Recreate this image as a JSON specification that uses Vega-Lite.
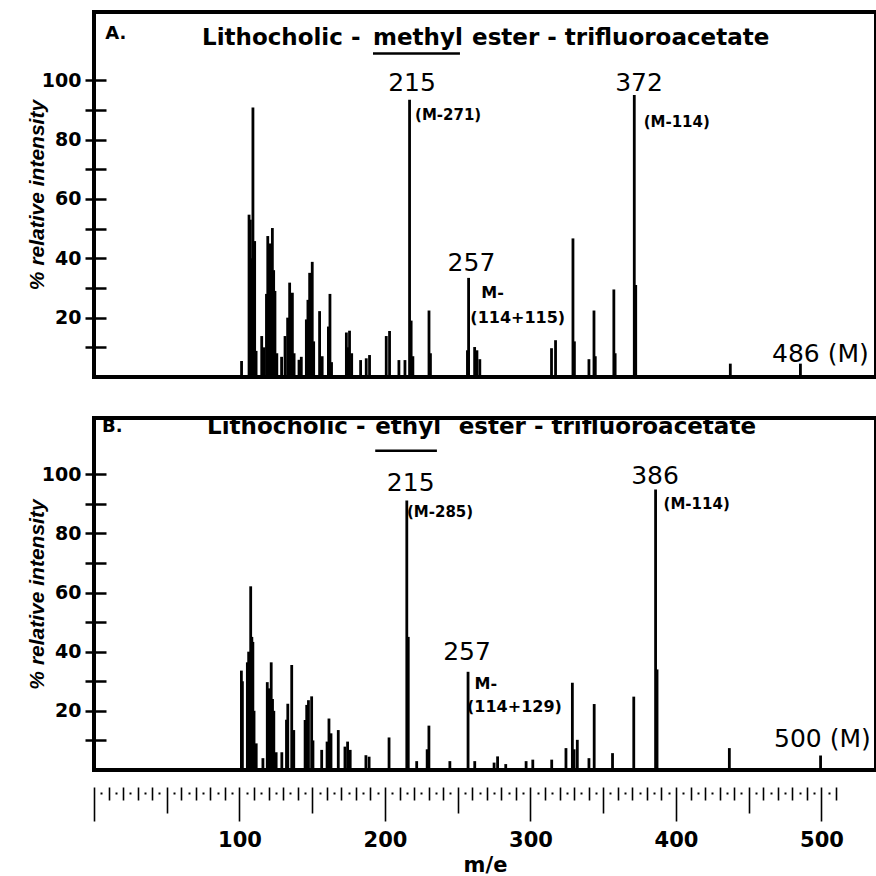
{
  "$schema": "https://vega.github.io/schema/vega-lite/v6.json",
  "background": "white",
  "padding": {"left": 24, "top": 10, "right": 0, "bottom": 0},
  "spacing": 33,
  "config": {"view": {"stroke": "black", "strokeWidth": 4}},
  "datasets": {
    "peaks": [
      {"panel":"A","m":98.5,"v":5.4},{"panel":"A","m":103.7,"v":54.7},{"panel":"A","m":104.6,"v":53},{"panel":"A","m":105.4,"v":40},
      {"panel":"A","m":106.4,"v":90.8},{"panel":"A","m":107.6,"v":45.8},{"panel":"A","m":108.6,"v":8.8},{"panel":"A","m":112.5,"v":13.8},
      {"panel":"A","m":114,"v":10},{"panel":"A","m":115.8,"v":28},{"panel":"A","m":116.7,"v":47.5},{"panel":"A","m":118,"v":45},
      {"panel":"A","m":119.9,"v":50.2},{"panel":"A","m":120.8,"v":36},{"panel":"A","m":121.7,"v":29},{"panel":"A","m":123,"v":8},
      {"panel":"A","m":126.3,"v":6.8},{"panel":"A","m":128.7,"v":13.8},{"panel":"A","m":130.5,"v":20},{"panel":"A","m":131.9,"v":31.8},
      {"panel":"A","m":132.8,"v":24},{"panel":"A","m":133.8,"v":28.4},{"panel":"A","m":135,"v":8},{"panel":"A","m":138.4,"v":5.8},
      {"panel":"A","m":140,"v":6.8},{"panel":"A","m":143.5,"v":19.4},{"panel":"A","m":144.6,"v":26},{"panel":"A","m":145.8,"v":35.1},
      {"panel":"A","m":146.7,"v":30},{"panel":"A","m":147.6,"v":38.8},{"panel":"A","m":148.6,"v":12},{"panel":"A","m":152.7,"v":22.2},
      {"panel":"A","m":154.5,"v":7},{"panel":"A","m":158.8,"v":17},{"panel":"A","m":159.9,"v":28},{"panel":"A","m":161,"v":5},
      {"panel":"A","m":171.3,"v":15},{"panel":"A","m":172.3,"v":10},{"panel":"A","m":173.5,"v":15.6},{"panel":"A","m":175,"v":8},
      {"panel":"A","m":181.2,"v":5.7},{"panel":"A","m":185.1,"v":6.3},{"panel":"A","m":187.4,"v":7.4},{"panel":"A","m":199,"v":13.8},
      {"panel":"A","m":201.3,"v":15.5},{"panel":"A","m":207.8,"v":5.7},{"panel":"A","m":212,"v":5.7},{"panel":"A","m":215.2,"v":93.4},
      {"panel":"A","m":216.3,"v":19},{"panel":"A","m":217.5,"v":7},{"panel":"A","m":228.7,"v":22.4},{"panel":"A","m":229.7,"v":8},
      {"panel":"A","m":255.4,"v":9},{"panel":"A","m":256.2,"v":33.4},{"panel":"A","m":260.4,"v":10.1},{"panel":"A","m":262,"v":9},
      {"panel":"A","m":264,"v":6},{"panel":"A","m":313.8,"v":9.7},{"panel":"A","m":316.6,"v":12.4},{"panel":"A","m":328.7,"v":46.7},
      {"panel":"A","m":329.7,"v":12},{"panel":"A","m":339.8,"v":6},{"panel":"A","m":343.3,"v":22.4},{"panel":"A","m":344.2,"v":7},
      {"panel":"A","m":357.1,"v":29.5},{"panel":"A","m":358,"v":8},{"panel":"A","m":371.3,"v":95},{"panel":"A","m":372.3,"v":31},
      {"panel":"A","m":438,"v":4.5},{"panel":"A","m":486.7,"v":4.5},
      {"panel":"B","m":101.3,"v":33.6},{"panel":"B","m":102,"v":30},{"panel":"B","m":105.4,"v":36.4},{"panel":"B","m":106.3,"v":40},
      {"panel":"B","m":107.7,"v":62.1},{"panel":"B","m":108.5,"v":45},{"panel":"B","m":109.2,"v":43.3},{"panel":"B","m":110,"v":20},
      {"panel":"B","m":111.5,"v":9},{"panel":"B","m":116.1,"v":4},{"panel":"B","m":119.1,"v":29.7},{"panel":"B","m":120,"v":27.6},
      {"panel":"B","m":121.8,"v":36.4},{"panel":"B","m":122.7,"v":24},{"panel":"B","m":123.6,"v":20},{"panel":"B","m":125.2,"v":6},
      {"panel":"B","m":129.1,"v":6},{"panel":"B","m":132.3,"v":17},{"panel":"B","m":133.2,"v":22.4},{"panel":"B","m":135.9,"v":35.5},
      {"panel":"B","m":137.3,"v":13.5},{"panel":"B","m":145.1,"v":16.9},{"panel":"B","m":146.2,"v":22},{"panel":"B","m":147.4,"v":23.6},
      {"panel":"B","m":149.6,"v":24.9},{"panel":"B","m":150.5,"v":10},{"panel":"B","m":156.5,"v":6.8},{"panel":"B","m":160.2,"v":9.6},
      {"panel":"B","m":161.5,"v":17.4},{"panel":"B","m":162.9,"v":12.4},{"panel":"B","m":167.9,"v":13.5},{"panel":"B","m":172.5,"v":7.9},
      {"panel":"B","m":174.3,"v":9.6},{"panel":"B","m":176.1,"v":6.8},{"panel":"B","m":186.9,"v":5},{"panel":"B","m":189.1,"v":4.5},
      {"panel":"B","m":202.8,"v":11},{"panel":"B","m":215,"v":91.1},{"panel":"B","m":216,"v":45},{"panel":"B","m":221.8,"v":3},
      {"panel":"B","m":229,"v":7},{"panel":"B","m":230.2,"v":15},{"panel":"B","m":244.6,"v":3},{"panel":"B","m":257.1,"v":33.2},
      {"panel":"B","m":261.7,"v":3},{"panel":"B","m":275,"v":2.5},{"panel":"B","m":277.4,"v":4.6},{"panel":"B","m":283,"v":2},
      {"panel":"B","m":297,"v":3},{"panel":"B","m":301.6,"v":3.5},{"panel":"B","m":314.6,"v":3.5},{"panel":"B","m":324.4,"v":7.4},
      {"panel":"B","m":328.8,"v":29.5},{"panel":"B","m":330,"v":7},{"panel":"B","m":332.2,"v":10.2},{"panel":"B","m":340.2,"v":4},
      {"panel":"B","m":343.8,"v":22.3},{"panel":"B","m":356.4,"v":5.7},{"panel":"B","m":371,"v":24.8},{"panel":"B","m":386,"v":94.8},
      {"panel":"B","m":387,"v":34},{"panel":"B","m":436.7,"v":7.4},{"panel":"B","m":499.4,"v":4.9}
    ],
    "notes": [
      {"panel":"A","role":"letter","m":3.8,"v":115.7,"text":"A."},
      {"panel":"A","role":"title","m":71.0,"v":114.1,"text":"Lithocholic -"},
      {"panel":"A","role":"title","m":189.8,"v":114.1,"text":"methyl"},
      {"panel":"A","role":"title","m":258.6,"v":114.1,"text":"ester - trifluoroacetate"},
      {"panel":"A","role":"peak","m":216.9,"v":99.0,"text":"215"},
      {"panel":"A","role":"ion","m":219.0,"v":88.2,"text":"(M-271)"},
      {"panel":"A","role":"peak","m":374.6,"v":99.0,"text":"372"},
      {"panel":"A","role":"ion","m":377.8,"v":86.0,"text":"(M-114)"},
      {"panel":"A","role":"peak","m":258.2,"v":38.3,"text":"257"},
      {"panel":"A","role":"loss","m":265.0,"v":28.2,"text":"M-"},
      {"panel":"A","role":"loss","m":257.4,"v":19.8,"text":"(114+115)"},
      {"panel":"A","role":"mol","m":467.0,"v":7.7,"text":"486 (M)"},
      {"panel":"B","role":"letter","m":5.5,"v":115.8,"text":"B."},
      {"panel":"B","role":"title","m":77.7,"v":115.8,"text":"Lithocholic -"},
      {"panel":"B","role":"title","m":193.3,"v":115.8,"text":"ethyl"},
      {"panel":"B","role":"title","m":250.7,"v":115.8,"text":"ester - trifluoroacetate"},
      {"panel":"B","role":"peak","m":217.7,"v":96.9,"text":"215"},
      {"panel":"B","role":"ion","m":215.1,"v":87.1,"text":"(M-285)"},
      {"panel":"B","role":"peak","m":385.6,"v":99.4,"text":"386"},
      {"panel":"B","role":"ion","m":391.5,"v":89.9,"text":"(M-114)"},
      {"panel":"B","role":"peak","m":256.4,"v":39.8,"text":"257"},
      {"panel":"B","role":"loss","m":261.6,"v":29.1,"text":"M-"},
      {"panel":"B","role":"loss","m":256.4,"v":21.2,"text":"(114+129)"},
      {"panel":"B","role":"mol","m":467.4,"v":10.5,"text":"500 (M)"}
    ],
    "underline": [
      {"panel":"A","m":189.8,"m2":250.2,"v":109.0},
      {"panel":"B","m":193.3,"m2":235.7,"v":107.9}
    ]
  },
  "vconcat": [
    {
      "width": 782,
      "height": 365,
      "resolve": {"axis": {"y": "independent"}},
      "encoding": {
        "x": {"field":"m","type":"quantitative","scale":{"domain":[-4,539.2],"nice":false,"zero":false},"axis":null},
        "y": {"field":"v","type":"quantitative","scale":{"domain":[0,123],"nice":false,"zero":false},"axis":null}
      },
      "layer": [
        {"data":{"name":"peaks"},"transform":[{"filter":"datum.panel === 'A'"}],
         "mark":{"type":"rule","strokeWidth":2.8,"color":"black"},
         "encoding":{
           "y": {"field":"v","type":"quantitative","scale":{"domain":[0,123],"nice":false,"zero":false},
             "axis": {"orient":"left","title":"% relative intensity","values":[10,20,30,40,50,60,70,80,90,100],
               "labelExpr":"datum.value % 20 === 0 ? datum.label : ''","domain":false,"grid":false,
               "tickSize":9,"tickWidth":2.5,"tickColor":"black","labelFont":"DejaVu Sans","labelFontWeight":"bold",
               "labelFontSize":19,"labelColor":"black","labelPadding":4,"titleFont":"Liberation Sans","titleFontStyle":"italic",
               "titleFontWeight":"bold","titleFontSize":21,"titleColor":"black","titlePadding":-6}},
           "y2":{"datum":0}}},
        {"data":{"name":"underline"},"transform":[{"filter":"datum.panel === 'A'"}],
         "mark":{"type":"rule","strokeWidth":2.5,"color":"black"},
         "encoding":{
           "y": {"field":"v","type":"quantitative","scale":{"domain":[0,123],"nice":false,"zero":false},
             "axis": {"orient":"left","offset":-12,"title":null,"values":[10,20,30,40,50,60,70,80,90,100],"labels":false,
               "domain":false,"grid":false,"tickSize":12,"tickWidth":2.5,"tickColor":"black"}},
           "x2":{"field":"m2"}}},
        {"data":{"name":"notes"},"transform":[{"filter":"datum.panel === 'A' && datum.role === 'letter'"}],
         "mark":{"type":"text","font":"DejaVu Sans","fontWeight":"bold","fontSize":18,"align":"left","baseline":"middle","color":"black"},
         "encoding":{"text":{"field":"text"}}},
        {"data":{"name":"notes"},"transform":[{"filter":"datum.panel === 'A' && datum.role === 'title'"}],
         "mark":{"type":"text","font":"DejaVu Sans","fontWeight":"bold","fontSize":23,"align":"left","baseline":"middle","color":"black"},
         "encoding":{"text":{"field":"text"}}},
        {"data":{"name":"notes"},"transform":[{"filter":"datum.panel === 'A' && datum.role === 'peak'"}],
         "mark":{"type":"text","font":"DejaVu Sans","fontSize":25,"align":"center","baseline":"middle","color":"black"},
         "encoding":{"text":{"field":"text"}}},
        {"data":{"name":"notes"},"transform":[{"filter":"datum.panel === 'A' && datum.role === 'ion'"}],
         "mark":{"type":"text","font":"DejaVu Sans","fontWeight":"bold","fontSize":15,"align":"left","baseline":"middle","color":"black"},
         "encoding":{"text":{"field":"text"}}},
        {"data":{"name":"notes"},"transform":[{"filter":"datum.panel === 'A' && datum.role === 'loss'"}],
         "mark":{"type":"text","font":"DejaVu Sans","fontWeight":"bold","fontSize":16,"align":"left","baseline":"middle","color":"black"},
         "encoding":{"text":{"field":"text"}}},
        {"data":{"name":"notes"},"transform":[{"filter":"datum.panel === 'A' && datum.role === 'mol'"}],
         "mark":{"type":"text","font":"DejaVu Sans","fontSize":25,"align":"left","baseline":"middle","color":"black","clip":true},
         "encoding":{"text":{"field":"text"}}}
      ]
    },
    {
      "width": 782,
      "height": 352,
      "resolve": {"axis": {"x": "independent", "y": "independent"}},
      "encoding": {
        "x": {"field":"m","type":"quantitative","scale":{"domain":[0,537.5],"nice":false,"zero":false},"axis":null},
        "y": {"field":"v","type":"quantitative","scale":{"domain":[0,119],"nice":false,"zero":false},"axis":null}
      },
      "layer": [
        {"data":{"name":"peaks"},"transform":[{"filter":"datum.panel === 'B'"}],
         "mark":{"type":"rule","strokeWidth":2.8,"color":"black"},
         "encoding":{
           "x": {"field":"m","type":"quantitative","scale":{"domain":[0,537.5],"nice":false,"zero":false},
             "axis": {"orient":"bottom","offset":17,"title":"m/e","values":[0,100,200,300,400,500],
               "labelExpr":"datum.value > 0 ? datum.label : ''",
               "domain":false,"grid":false,"tickSize":34,"tickWidth":1.6,"tickColor":"black",
               "labelFont":"DejaVu Sans","labelFontWeight":"bold","labelFontSize":21,"labelColor":"black","labelPadding":8,
               "titleFont":"DejaVu Sans","titleFontWeight":"bold","titleFontSize":21,"titleColor":"black","titlePadding":4}},
           "y": {"field":"v","type":"quantitative","scale":{"domain":[0,119],"nice":false,"zero":false},
             "axis": {"orient":"left","title":"% relative intensity","values":[10,20,30,40,50,60,70,80,90,100],
               "labelExpr":"datum.value % 20 === 0 ? datum.label : ''","domain":false,"grid":false,
               "tickSize":9,"tickWidth":2.5,"tickColor":"black","labelFont":"DejaVu Sans","labelFontWeight":"bold",
               "labelFontSize":19,"labelColor":"black","labelPadding":4,"titleFont":"Liberation Sans","titleFontStyle":"italic",
               "titleFontWeight":"bold","titleFontSize":21,"titleColor":"black","titlePadding":-6}},
           "y2":{"datum":0}}},
        {"data":{"name":"underline"},"transform":[{"filter":"datum.panel === 'B'"}],
         "mark":{"type":"rule","strokeWidth":2.5,"color":"black"},
         "encoding":{
           "x": {"field":"m","type":"quantitative","scale":{"domain":[0,537.5],"nice":false,"zero":false},
             "axis": {"orient":"bottom","offset":17,"title":null,"values":[50,150,250,350,450],"labels":false,
               "domain":false,"grid":false,"tickSize":26,"tickWidth":1.6,"tickColor":"black"}},
           "y": {"field":"v","type":"quantitative","scale":{"domain":[0,119],"nice":false,"zero":false},
             "axis": {"orient":"left","offset":-12,"title":null,"values":[10,20,30,40,50,60,70,80,90,100],"labels":false,
               "domain":false,"grid":false,"tickSize":12,"tickWidth":2.5,"tickColor":"black"}},
           "x2":{"field":"m2"}}},
        {"data":{"name":"notes"},"transform":[{"filter":"datum.panel === 'B' && datum.role === 'letter'"}],
         "mark":{"type":"text","font":"DejaVu Sans","fontWeight":"bold","fontSize":18,"align":"left","baseline":"middle","color":"black"},
         "encoding":{
           "x": {"field":"m","type":"quantitative","scale":{"domain":[0,537.5],"nice":false,"zero":false},
             "axis": {"orient":"bottom","offset":17,"title":null,
               "values":[10,20,30,40,60,70,80,90,110,120,130,140,160,170,180,190,210,220,230,240,260,270,280,290,310,320,330,340,360,370,380,390,410,420,430,440,460,470,480,490,510],
               "labels":false,"domain":false,"grid":false,"tickSize":13,"tickWidth":1.6,"tickColor":"black"}},
           "text":{"field":"text"}}},
        {"data":{"name":"notes"},"transform":[{"filter":"datum.panel === 'B' && datum.role === 'title'"}],
         "mark":{"type":"text","font":"DejaVu Sans","fontWeight":"bold","fontSize":23,"align":"left","baseline":"middle","color":"black"},
         "encoding":{
           "x": {"field":"m","type":"quantitative","scale":{"domain":[0,537.5],"nice":false,"zero":false},
             "axis": {"orient":"bottom","offset":17,"title":null,
               "values":[5,15,25,35,45,55,65,75,85,95,105,115,125,135,145,155,165,175,185,195,205,215,225,235,245,255,265,275,285,295,305,315,325,335,345,355,365,375,385,395,405,415,425,435,445,455,465,475,485,495,505],
               "labels":false,"domain":false,"grid":false,"tickSize":8,"tickWidth":2,"tickColor":"black","tickDash":[0,5,2,10]}},
           "text":{"field":"text"}}},
        {"data":{"name":"notes"},"transform":[{"filter":"datum.panel === 'B' && datum.role === 'peak'"}],
         "mark":{"type":"text","font":"DejaVu Sans","fontSize":25,"align":"center","baseline":"middle","color":"black"},
         "encoding":{"text":{"field":"text"}}},
        {"data":{"name":"notes"},"transform":[{"filter":"datum.panel === 'B' && datum.role === 'ion'"}],
         "mark":{"type":"text","font":"DejaVu Sans","fontWeight":"bold","fontSize":15,"align":"left","baseline":"middle","color":"black"},
         "encoding":{"text":{"field":"text"}}},
        {"data":{"name":"notes"},"transform":[{"filter":"datum.panel === 'B' && datum.role === 'loss'"}],
         "mark":{"type":"text","font":"DejaVu Sans","fontWeight":"bold","fontSize":16,"align":"left","baseline":"middle","color":"black"},
         "encoding":{"text":{"field":"text"}}},
        {"data":{"name":"notes"},"transform":[{"filter":"datum.panel === 'B' && datum.role === 'mol'"}],
         "mark":{"type":"text","font":"DejaVu Sans","fontSize":25,"align":"left","baseline":"middle","color":"black","clip":true},
         "encoding":{"text":{"field":"text"}}}
      ]
    }
  ]
}
